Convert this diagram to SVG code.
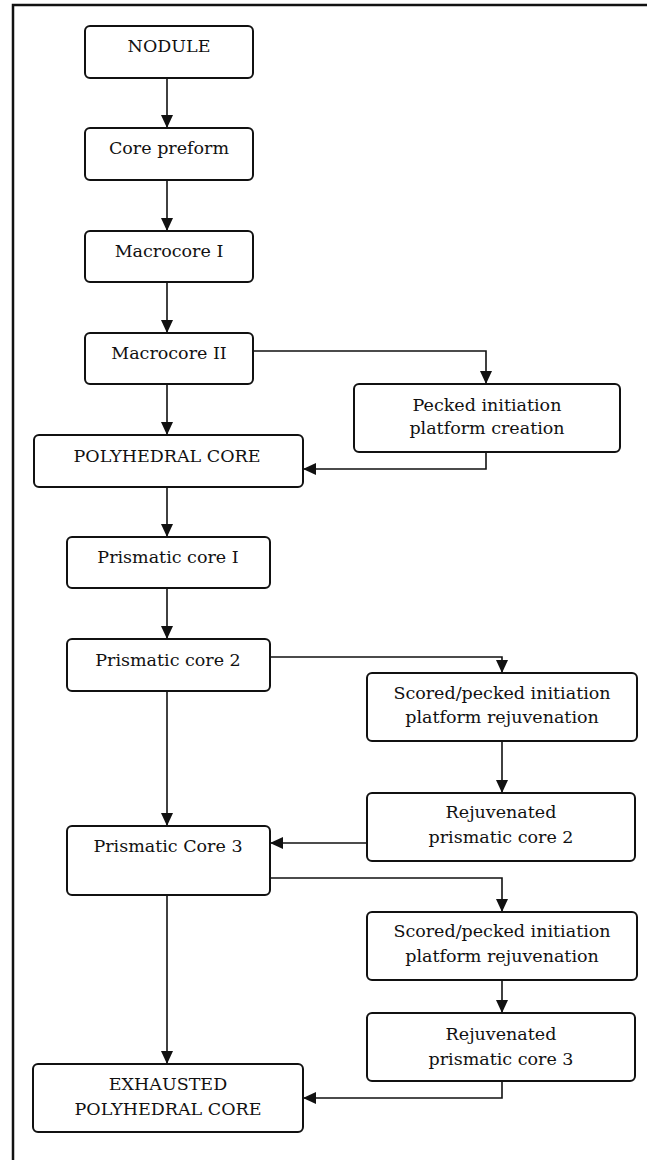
<svg xmlns="http://www.w3.org/2000/svg" width="647" height="1160" viewBox="0 0 647 1160">
  <style>
    .box { fill: #fff; stroke: #111; stroke-width: 2; }
    .lbl { font-family: "DejaVu Serif", "Liberation Serif", serif; font-size: 17.5px; fill: #111; text-anchor: middle; }
    .wire { fill: none; stroke: #111; stroke-width: 1.6; marker-end: url(#arrow); }
    .frame { fill: none; stroke: #111; stroke-width: 2.5; }
  </style>
  <defs>
    <marker id="arrow" markerUnits="userSpaceOnUse" markerWidth="13" markerHeight="12" refX="13" refY="6" orient="auto">
      <path d="M0,0 L13,6 L0,12 z" fill="#111"/>
    </marker>
  </defs>

  <!-- page frame: top and left rules -->
  <path class="frame" d="M13,1160 V5 H647"/>

  <!-- connectors -->
  <g id="connectors">
    <path class="wire" d="M167,78 V128"/>
    <path class="wire" d="M167,180 V231"/>
    <path class="wire" d="M167,282 V333"/>
    <path class="wire" d="M253,351 H486 V384"/>
    <path class="wire" d="M167,384 V435"/>
    <path class="wire" d="M486,452 V469 H303"/>
    <path class="wire" d="M167,487 V537"/>
    <path class="wire" d="M167,588 V639"/>
    <path class="wire" d="M270,657 H502 V673"/>
    <path class="wire" d="M502,741 V793"/>
    <path class="wire" d="M367,843 H270"/>
    <path class="wire" d="M167,691 V826"/>
    <path class="wire" d="M270,878 H502 V912"/>
    <path class="wire" d="M502,980 V1013"/>
    <path class="wire" d="M167,895 V1064"/>
    <path class="wire" d="M502,1081 V1098 H303"/>
  </g>

  <g id="nodule">
    <rect class="box" x="85" y="26" width="168" height="52" rx="5"/>
    <text class="lbl" x="169" y="52">NODULE</text>
  </g>
  <g id="core-preform">
    <rect class="box" x="85" y="128" width="168" height="52" rx="5"/>
    <text class="lbl" x="169" y="154">Core preform</text>
  </g>
  <g id="macrocore-1">
    <rect class="box" x="85" y="231" width="168" height="51" rx="5"/>
    <text class="lbl" x="169" y="257">Macrocore I</text>
  </g>
  <g id="macrocore-2">
    <rect class="box" x="85" y="333" width="168" height="51" rx="5"/>
    <text class="lbl" x="169" y="359">Macrocore II</text>
  </g>
  <g id="pecked-platform">
    <rect class="box" x="354" y="384" width="266" height="68" rx="5"/>
    <text class="lbl" x="487" y="411">Pecked initiation</text>
    <text class="lbl" x="487" y="434">platform creation</text>
  </g>
  <g id="polyhedral-core">
    <rect class="box" x="34" y="435" width="269" height="52" rx="5"/>
    <text class="lbl" x="167" y="462">POLYHEDRAL CORE</text>
  </g>
  <g id="prismatic-core-1">
    <rect class="box" x="67" y="537" width="203" height="51" rx="5"/>
    <text class="lbl" x="168" y="563">Prismatic core I</text>
  </g>
  <g id="prismatic-core-2">
    <rect class="box" x="67" y="639" width="203" height="52" rx="5"/>
    <text class="lbl" x="168" y="666">Prismatic core 2</text>
  </g>
  <g id="scored-rejuvenation-1">
    <rect class="box" x="367" y="673" width="270" height="68" rx="5"/>
    <text class="lbl" x="502" y="699">Scored/pecked initiation</text>
    <text class="lbl" x="502" y="723">platform rejuvenation</text>
  </g>
  <g id="rejuvenated-core-2">
    <rect class="box" x="367" y="793" width="268" height="68" rx="5"/>
    <text class="lbl" x="501" y="818">Rejuvenated</text>
    <text class="lbl" x="501" y="843">prismatic core 2</text>
  </g>
  <g id="prismatic-core-3">
    <rect class="box" x="67" y="826" width="203" height="69" rx="5"/>
    <text class="lbl" x="168" y="852">Prismatic Core 3</text>
  </g>
  <g id="scored-rejuvenation-2">
    <rect class="box" x="367" y="912" width="270" height="68" rx="5"/>
    <text class="lbl" x="502" y="937">Scored/pecked initiation</text>
    <text class="lbl" x="502" y="962">platform rejuvenation</text>
  </g>
  <g id="rejuvenated-core-3">
    <rect class="box" x="367" y="1013" width="268" height="68" rx="5"/>
    <text class="lbl" x="501" y="1040">Rejuvenated</text>
    <text class="lbl" x="501" y="1065">prismatic core 3</text>
  </g>
  <g id="exhausted-core">
    <rect class="box" x="33" y="1064" width="270" height="68" rx="5"/>
    <text class="lbl" x="168" y="1090">EXHAUSTED</text>
    <text class="lbl" x="168" y="1115">POLYHEDRAL CORE</text>
  </g>
</svg>
